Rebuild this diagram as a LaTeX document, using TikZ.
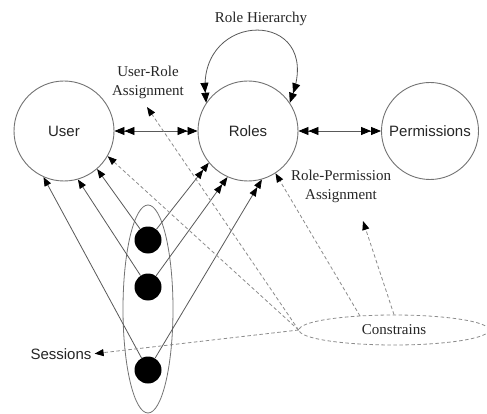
\documentclass[tikz,border=0pt]{standalone}
\usepackage{fontspec}
\setmainfont{Liberation Serif}
\newfontfamily\arialfont{Liberation Sans}
\usetikzlibrary{arrows.meta,shapes.geometric,calc}
\begin{document}
\begin{tikzpicture}[x=1pt,y=-1pt,
  big/.style={circle,draw=black!55,line width=0.9pt,minimum size=100pt,inner sep=0pt,
    font=\arialfont\fontsize{15}{18}\selectfont,text=black!85},
  sdot/.style={circle,fill=black,minimum size=27pt,inner sep=0pt},
  lbl/.style={font=\fontsize{15}{19}\selectfont,text=black!85,align=center,inner sep=0pt},
  sanslbl/.style={font=\arialfont\fontsize{15}{18}\selectfont,text=black!85,inner sep=0pt},
  conn/.style={draw=black!65,line width=0.8pt},
  dconn/.style={draw=black!45,line width=0.8pt,dash pattern=on 3.5pt off 2.5pt},
  arrone/.style={-{Triangle[length=9pt,width=7pt,black]}},
  arrtwo/.style={-{Triangle[length=9pt,width=7pt,black]Triangle[length=9pt,width=7pt,black]}},
  arrboth/.style={{Triangle[length=10pt,width=8pt,black]Triangle[length=10pt,width=8pt,black]}-{Triangle[length=10pt,width=8pt,black]Triangle[length=10pt,width=8pt,black]}},
  arrdash/.style={-{Triangle[length=9pt,width=7pt,black]}}
]
\fill[white] (0,0) rectangle (487,414);
\useasboundingbox (0,0) rectangle (487,414);

% main circles
\node[big] (user) at (64,131) {User};
\node[big] (roles) at (248,131) {Roles};
\node[big,minimum size=97pt] (perm) at (430,131) {Permissions};

% sessions
\node[draw=black!55,line width=0.8pt,ellipse,minimum width=50pt,minimum height=208pt,inner sep=0pt] (sess) at (148,309) {};
\node[sdot] (d1) at (148,240) {};
\node[sdot] (d2) at (148,287) {};
\node[sdot] (d3) at (148,370) {};

% labels
\node[lbl] (rh) at (261,19) {Role Hierarchy};
\node[lbl] (ura) at (148,82) {User-Role\\Assignment};
\node[lbl] (rpa) at (341,186) {Role-Permission\\Assignment};
\node[sanslbl] (sesl) at (61,354) {Sessions};
\node[ellipse,draw=black!45,line width=0.8pt,dash pattern=on 3.5pt off 2.5pt,minimum width=190pt,minimum height=30pt,inner sep=0pt,lbl] (cons) at (394,330) {Constrains};

\coordinate (uratip) at (147,107);
\coordinate (rpatip) at (363,221);
\coordinate (c1) at (360,316);

% solid connectors
\draw[conn,arrboth] (user.east) -- (roles.west);
\draw[conn,arrboth] (roles.east) -- (perm.west);
\draw[conn,arrboth] (roles.146) .. controls (198,9) and (322,9) .. (roles.34);

\draw[conn,arrone] (d3) -- (user.246);
\draw[conn,arrone] (d2) -- (user.286);
\draw[conn,arrone] (d1) -- (user.311);
\draw[conn,arrtwo] (d1) -- (roles.219);
\draw[conn,arrtwo] (d2) -- (roles.246);
\draw[conn,arrtwo] (d3) -- (roles.286);

% dashed connectors
\draw[dconn,arrdash] (cons.west) -- (user.330);
\draw[dconn,arrdash] (cons.west) -- (uratip);
\draw[dconn,arrdash] (c1) -- (roles.303);
\draw[dconn,arrdash] (cons.north) -- (rpatip);
\draw[dconn,arrdash,shorten >=3pt] (cons.west) -- (sesl.east);
\end{tikzpicture}
\end{document}
